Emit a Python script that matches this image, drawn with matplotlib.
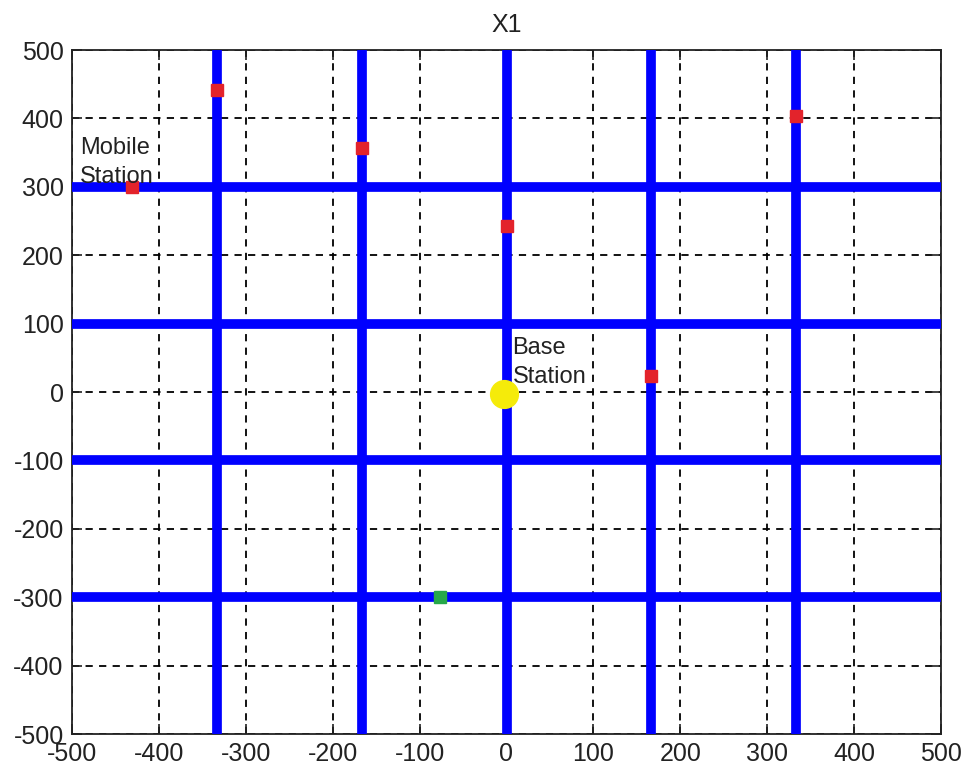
import matplotlib
matplotlib.use("Agg")
import matplotlib.pyplot as plt

# Data
road_x = [-333.3, -166.7, 0.0, 166.7, 333.3]
road_y = [300, 100, -100, -300]
mobile_x = [-431, -333.3, -166.7, 0.0, 166.7, 333.3]
mobile_y = [299, 441, 356, 243, 23, 403]
target_x = [-76]
target_y = [-300]
base_x = [-3]
base_y = [-3]
ticks = [-500, -400, -300, -200, -100, 0, 100, 200, 300, 400, 500]

plt.rcParams['font.family'] = ['Liberation Sans', 'DejaVu Sans']
plt.rcParams['axes.unicode_minus'] = False

fig = plt.figure(figsize=(9.68, 7.71), dpi=100)
ax = fig.add_axes([72/968, 37/771, 869/968, 684/771])
ax.set_xlim(-500, 500)
ax.set_ylim(-500, 500)

ax.grid(True, color='black', linestyle=(0, (4, 3.5)), linewidth=1.3)
ax.set_axisbelow(True)

for xv in road_x:
    ax.plot([xv, xv], [-500, 500], color='#0000ff', lw=7, solid_capstyle='butt', clip_on=False, zorder=3)
for yv in road_y:
    ax.plot([-500, 500], [yv, yv], color='#0000ff', lw=7, solid_capstyle='butt', clip_on=False, zorder=3)

ax.plot(mobile_x, mobile_y, 's', color='#e3232b', ms=9, mec='#e3232b', zorder=4, linestyle='none')
ax.plot(target_x, target_y, 's', color='#27a84a', ms=9, mec='#27a84a', zorder=4, linestyle='none')
ax.plot(base_x, base_y, 'o', color='#f5eb0a', ms=20, mec='#f5eb0a', zorder=4, linestyle='none')

ax.text(-491, 336, 'Mobile\nStation', fontsize=17, va='center', ha='left', color='#222222', zorder=5, linespacing=1.4)
ax.text(7, 43, 'Base\nStation', fontsize=17, va='center', ha='left', color='#222222', zorder=5, linespacing=1.4)

ax.set_xticks(ticks)
ax.set_yticks(ticks)
ax.tick_params(direction='in', length=7, width=1.2, labelsize=18, colors='#222222',
               top=True, right=True, pad=6)
for sp in ax.spines.values():
    sp.set_linewidth(1.3)
    sp.set_color('#222222')

ax.set_title('X1', fontsize=18, color='#222222', pad=13)

fig.savefig('out.png', dpi=100)
